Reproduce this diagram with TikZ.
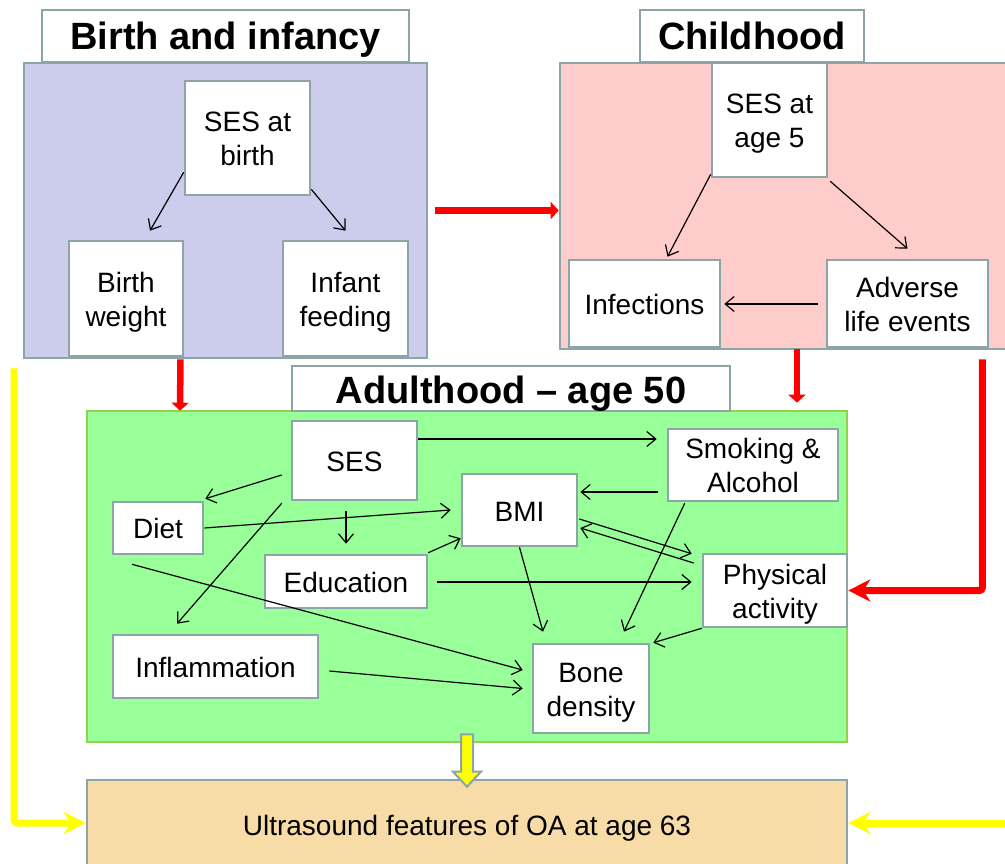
\documentclass[tikz,border=0pt]{standalone}
\usepackage{fontspec}
\setmainfont{Liberation Sans}
\usetikzlibrary{arrows.meta,calc}

\definecolor{boxgray}{RGB}{140,165,168}
\definecolor{lavender}{RGB}{204,204,236}
\definecolor{pinkfill}{RGB}{255,204,204}
\definecolor{greenfill}{RGB}{153,255,153}
\definecolor{greenedge}{RGB}{146,208,80}
\definecolor{wheatfill}{RGB}{248,220,168}
\definecolor{pureyellow}{RGB}{255,255,0}
\definecolor{purered}{RGB}{255,0,0}

\tikzset{
  panel/.style={draw=boxgray, line width=2.6pt, inner sep=0pt, rectangle},
  titlebox/.style={draw=boxgray, line width=2.6pt, fill=white, inner sep=0pt,
    font=\fontsize{38}{40}\selectfont\bfseries, text height=34pt, text depth=6pt},
  varbox/.style={draw=boxgray, line width=2.6pt, fill=white, inner sep=0pt,
    align=center, font=\fontsize{28}{33.6}\selectfont},
  oneline/.style={varbox, text height=22pt, text depth=0pt},
  twoline/.style={varbox, text height=55pt, text depth=0pt},
  link/.style={line width=1.2pt, -{Straight Barb[length=9pt,width=15pt]}},
  redlink/.style={purered, line width=6.5pt, -{Triangle[length=8pt,width=17pt]}},
  bentlink/.style={line width=7pt, rounded corners=3pt,
    -{Stealth[length=22pt,width=22pt,inset=7pt]}},
}

\begin{document}
\begin{tikzpicture}[x=1pt,y=-1pt]
\useasboundingbox (0,0) rectangle (1005,864);

% ---------- Birth and infancy ----------
\node[panel, fill=lavender, minimum width=403, minimum height=295] (bp) at (225.5,210.5) {};
\node[titlebox, minimum width=367, minimum height=52] (bt) at (225.5,36) {Birth and infancy};
\node[twoline, minimum width=125, minimum height=114] (sesb) at (247.5,138) {SES at\\birth};
\node[twoline, minimum width=114, minimum height=115] (bw) at (126,298.5) {Birth\\weight};
\node[twoline, minimum width=125, minimum height=115] (inff) at (345.5,298.5) {Infant\\feeding};

\draw[link] ($(sesb.south west)+(0,-24)$) -- ($(bw.north)+(24,-9)$);
\draw[link] ($(sesb.south east)+(0,-7)$) -- ($(inff.north)+(0,-9)$);

% ---------- Childhood ----------
\node[panel, fill=pinkfill, minimum width=460, minimum height=286] (chp) at (790,206) {};
\node[titlebox, minimum width=224, minimum height=52] (ct) at (752,36) {Childhood};
\node[twoline, minimum width=115, minimum height=114] (ses5) at (769.5,120) {SES at\\age 5};
\node[oneline, minimum width=151, minimum height=87] (infc) at (644.5,303.5) {Infections};
\node[twoline, minimum width=161, minimum height=87] (adv) at (907.5,303.5) {Adverse\\life events};

\draw[link] ($(ses5.south west)+(0,-4)$) -- ($(infc.north)+(23,-2)$);
\draw[link] ($(ses5.south east)+(2,3)$) -- ($(adv.north)+(0,-10)$);
\draw[link] ($(adv.west)+(-8,0.5)$) -- ($(infc.east)+(3,0.5)$);

% ---------- Adulthood ----------
\node[panel, draw=greenedge, fill=greenfill, minimum width=760, minimum height=331] (ap) at (467,576.5) {};
\node[titlebox, minimum width=438, minimum height=45, text height=35pt] (at) at (511,388.5) {Adulthood -- age 50};

\node[oneline, minimum width=125, minimum height=79] (ses) at (354.5,460.5) {SES};
\node[oneline, minimum width=90, minimum height=52, text height=20pt] (diet) at (158,528) {Diet};
\node[oneline, minimum width=115, minimum height=72] (bmi) at (519.5,510) {BMI};
\node[oneline, minimum width=162, minimum height=53] (edu) at (346,581.5) {Education};
\node[twoline, minimum width=170, minimum height=72] (smk) at (753,465) {Smoking \&\\Alcohol};
\node[twoline, minimum width=144, minimum height=73] (phys) at (775,590.5) {Physical\\activity};
\node[oneline, minimum width=205, minimum height=63] (infl) at (215.5,666.5) {Inflammation};
\node[twoline, minimum width=116, minimum height=89] (bone) at (591,688.5) {Bone\\density};

\draw[link] ($(ses.east)+(0,-21.5)$) -- ($(smk.west)+(-10,-26)$);
\draw[link] ($(ses.west)+(-9,14.5)$) -- ($(diet.north east)+(1,-2)$);
\draw[link] ($(ses.south)+(-8.5,10)$) -- ($(edu.north)+(0,-10)$);
\draw[link] ($(ses.south west)+(-9,2)$) -- ($(infl.north)+(-38.5,-10)$);
\draw[link] (diet.east) -- ($(bmi.west)+(-10,0)$);
\draw[link] ($(diet.south)+(-26,9)$) -- ($(bone.west)+(-9,-18.5)$);
\draw[link] ($(edu.north east)+(0,-1)$) -- ($(bmi.south west)+(0,-9)$);
\draw[link] ($(edu.east)+(9,0.5)$) -- ($(phys.west)+(-10,-8.5)$);
\draw[link] ($(smk.west)+(-9,27)$) -- ($(bmi.east)+(2,-18)$);
\draw[link] ($(smk.south west)+(18,1)$) -- ($(bone.north)+(33,-11)$);
\draw[link] ($(bmi.east)+(1,9)$) -- ($(phys.north west)+(-10,1)$);
\draw[link] ($(phys.west)+(-8,-27.5)$) -- ($(bmi.east)+(2,18)$);
\draw[link] (bmi.south) -- ($(bone.north)+(-48,-11)$);
\draw[link] (phys.south west) -- ($(bone.north east)+(3,0)$);
\draw[link] ($(infl.east)+(10,4.5)$) -- ($(bone.west)+(-9,0)$);

% ---------- Outcome ----------
\node[panel, fill=wheatfill, minimum width=760, minimum height=90,
      font=\fontsize{28}{33.6}\selectfont, text height=20pt, text depth=0pt] (out) at (467,825)
      {Ultrasound features of OA at age 63};

% ---------- Links between life stages ----------
\draw[redlink] ($(bp.east)+(7,0)$) -- ($(chp.west)+(0,4.5)$);
\draw[redlink] ($(bp.south)+(-45,0)$) -- ($(ap.north)+(-287,1)$);
\draw[redlink] ($(chp.south)+(7,-1)$) -- ($(ap.north)+(330,-7)$);
\draw[bentlink, purered] ($(adv.south east)+(-7,11)$) |- (phys.east);

\coordinate (yr) at (1012,823);
\draw[bentlink, pureyellow] ($(bp.south west)+(-8.5,9)$) |- ($(out.west)+(0,-2)$);
\draw[bentlink, pureyellow] (yr) -- ($(out.east)+(0,-2)$);

% block arrow from adulthood down to the outcome
\draw[draw=boxgray, fill=pureyellow, line width=2pt, line join=miter]
  ($(ap.south)+(-6,-9)$) -- ($(ap.south)+(6,-9)$) -- ($(out.north)+(6,-7)$)
  -- ($(out.north)+(14,-7)$) -- ($(out.north)+(0,8)$) -- ($(out.north)+(-14,-7)$)
  -- ($(out.north)+(-6,-7)$) -- cycle;
\end{tikzpicture}
\end{document}
